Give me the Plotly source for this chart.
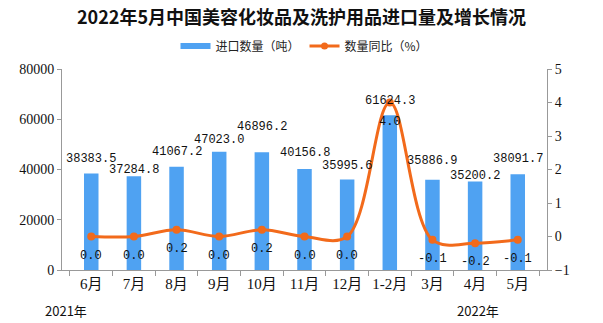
import plotly.graph_objects as go

categories = ["6月", "7月", "8月", "9月", "10月", "11月", "12月", "1-2月", "3月", "4月", "5月"]
import_qty = [38383.5, 37284.8, 41067.2, 47023.0, 46896.2, 40156.8, 35995.6, 61624.3, 35886.9, 35200.2, 38091.7]
yoy = [0.0, 0.0, 0.2, 0.0, 0.2, 0.0, 0.0, 4.0, -0.1, -0.2, -0.1]

# label offsets (pixels above bar top) to mimic the reference's staggered labels
bar_label_shift = [15, 6, 15, 12, 25, 16, 14, 14, 19, 6, 15]

CJK = "Noto Sans CJK SC"
NUM = "Liberation Mono, Noto Sans CJK SC"
SERIF = "Liberation Serif, Noto Sans CJK SC"
BLUE = "#4FA2F2"
ORANGE = "#F26A1B"

fig = go.Figure()
fig.add_trace(go.Bar(
    x=categories, y=import_qty, name="进口数量（吨）", showlegend=False,
    marker=dict(color=BLUE, line=dict(width=0)),
    cliponaxis=False, width=0.34,
))
fig.add_trace(go.Scatter(
    x=categories, y=yoy, name="数量同比（%）", yaxis="y2", showlegend=False,
    mode="lines+markers",
    line=dict(color=ORANGE, width=3, shape="spline", smoothing=1.0),
    marker=dict(color=ORANGE, size=8),
    cliponaxis=False,
))
# legend entries
fig.add_trace(go.Scatter(x=[None], y=[None], mode="lines", name="进口数量（吨）",
                         line=dict(color=BLUE, width=6)))
fig.add_trace(go.Scatter(x=[None], y=[None], mode="lines+markers", name="数量同比（%）",
                         line=dict(color=ORANGE, width=3), marker=dict(color=ORANGE, size=7),
                         yaxis="y2"))

L, R, T, B = 62, 56, 69, 53
pw, ph = 603 - L - R, 323 - T - B

def px2paper(px, py):
    return (px - L) / pw, 1 - (py - T) / ph

a1x, a1y = px2paper(66, 310)
a2x, a2y = px2paper(478, 310)
lgx, lgy = px2paper(301, 46)

annotations = [
    dict(text="2021年", x=a1x, y=a1y, xref="paper", yref="paper", showarrow=False,
         xanchor="center", yanchor="middle", font=dict(family=CJK, size=13, color="#111")),
    dict(text="2022年", x=a2x, y=a2y, xref="paper", yref="paper", showarrow=False,
         xanchor="center", yanchor="middle", font=dict(family=CJK, size=13, color="#111")),
]
for c, v, s in zip(categories, import_qty, bar_label_shift):
    annotations.append(dict(text=f"{v:.1f}", x=c, y=v, xref="x", yref="y", showarrow=False,
                            xanchor="center", yanchor="middle", yshift=s,
                            font=dict(family=NUM, size=12, color="#111")))
for c, v in zip(categories, yoy):
    annotations.append(dict(text=f"{v:.1f}", x=c, y=v, xref="x", yref="y2", showarrow=False,
                            xanchor="center", yanchor="middle", yshift=-19,
                            font=dict(family=NUM, size=12, color="#111")))

fig.update_layout(
    width=603, height=323,
    margin=dict(l=L, r=R, t=T, b=B),
    paper_bgcolor="white", plot_bgcolor="white",
    title=dict(text="<b>2022年5月中国美容化妆品及洗护用品进口量及增长情况</b>",
               x=0.5, xanchor="center", y=1 - 18 / 323, yanchor="middle",
               font=dict(family=CJK, size=18, color="#111")),
    legend=dict(orientation="h", x=0.5, xanchor="center", y=lgy, yanchor="middle",
                font=dict(family=CJK, size=12, color="#222"), itemwidth=30,
                tracegroupgap=0, bgcolor="rgba(0,0,0,0)"),
    xaxis=dict(showline=True, linecolor="#999", linewidth=1, ticks="outside",
               tickson="boundaries", ticklen=5, tickcolor="#999", tickangle=0,
               tickfont=dict(family=SERIF, size=15, color="#111"), showgrid=False),
    yaxis=dict(range=[0, 80000], dtick=20000, showline=True, linecolor="#999",
               ticks="outside", ticklen=4, tickcolor="#999", showgrid=False,
               tickformat="d",
               tickfont=dict(family=SERIF, size=14, color="#111"), zeroline=False),
    yaxis2=dict(range=[-1, 5], dtick=1, overlaying="y", side="right", showline=True,
                linecolor="#999", ticks="outside", ticklen=4, tickcolor="#999",
                showgrid=False, zeroline=False,
                tickfont=dict(family=SERIF, size=14, color="#111")),
    bargap=0.66,
    annotations=annotations,
)

fig.write_html("out.html")
